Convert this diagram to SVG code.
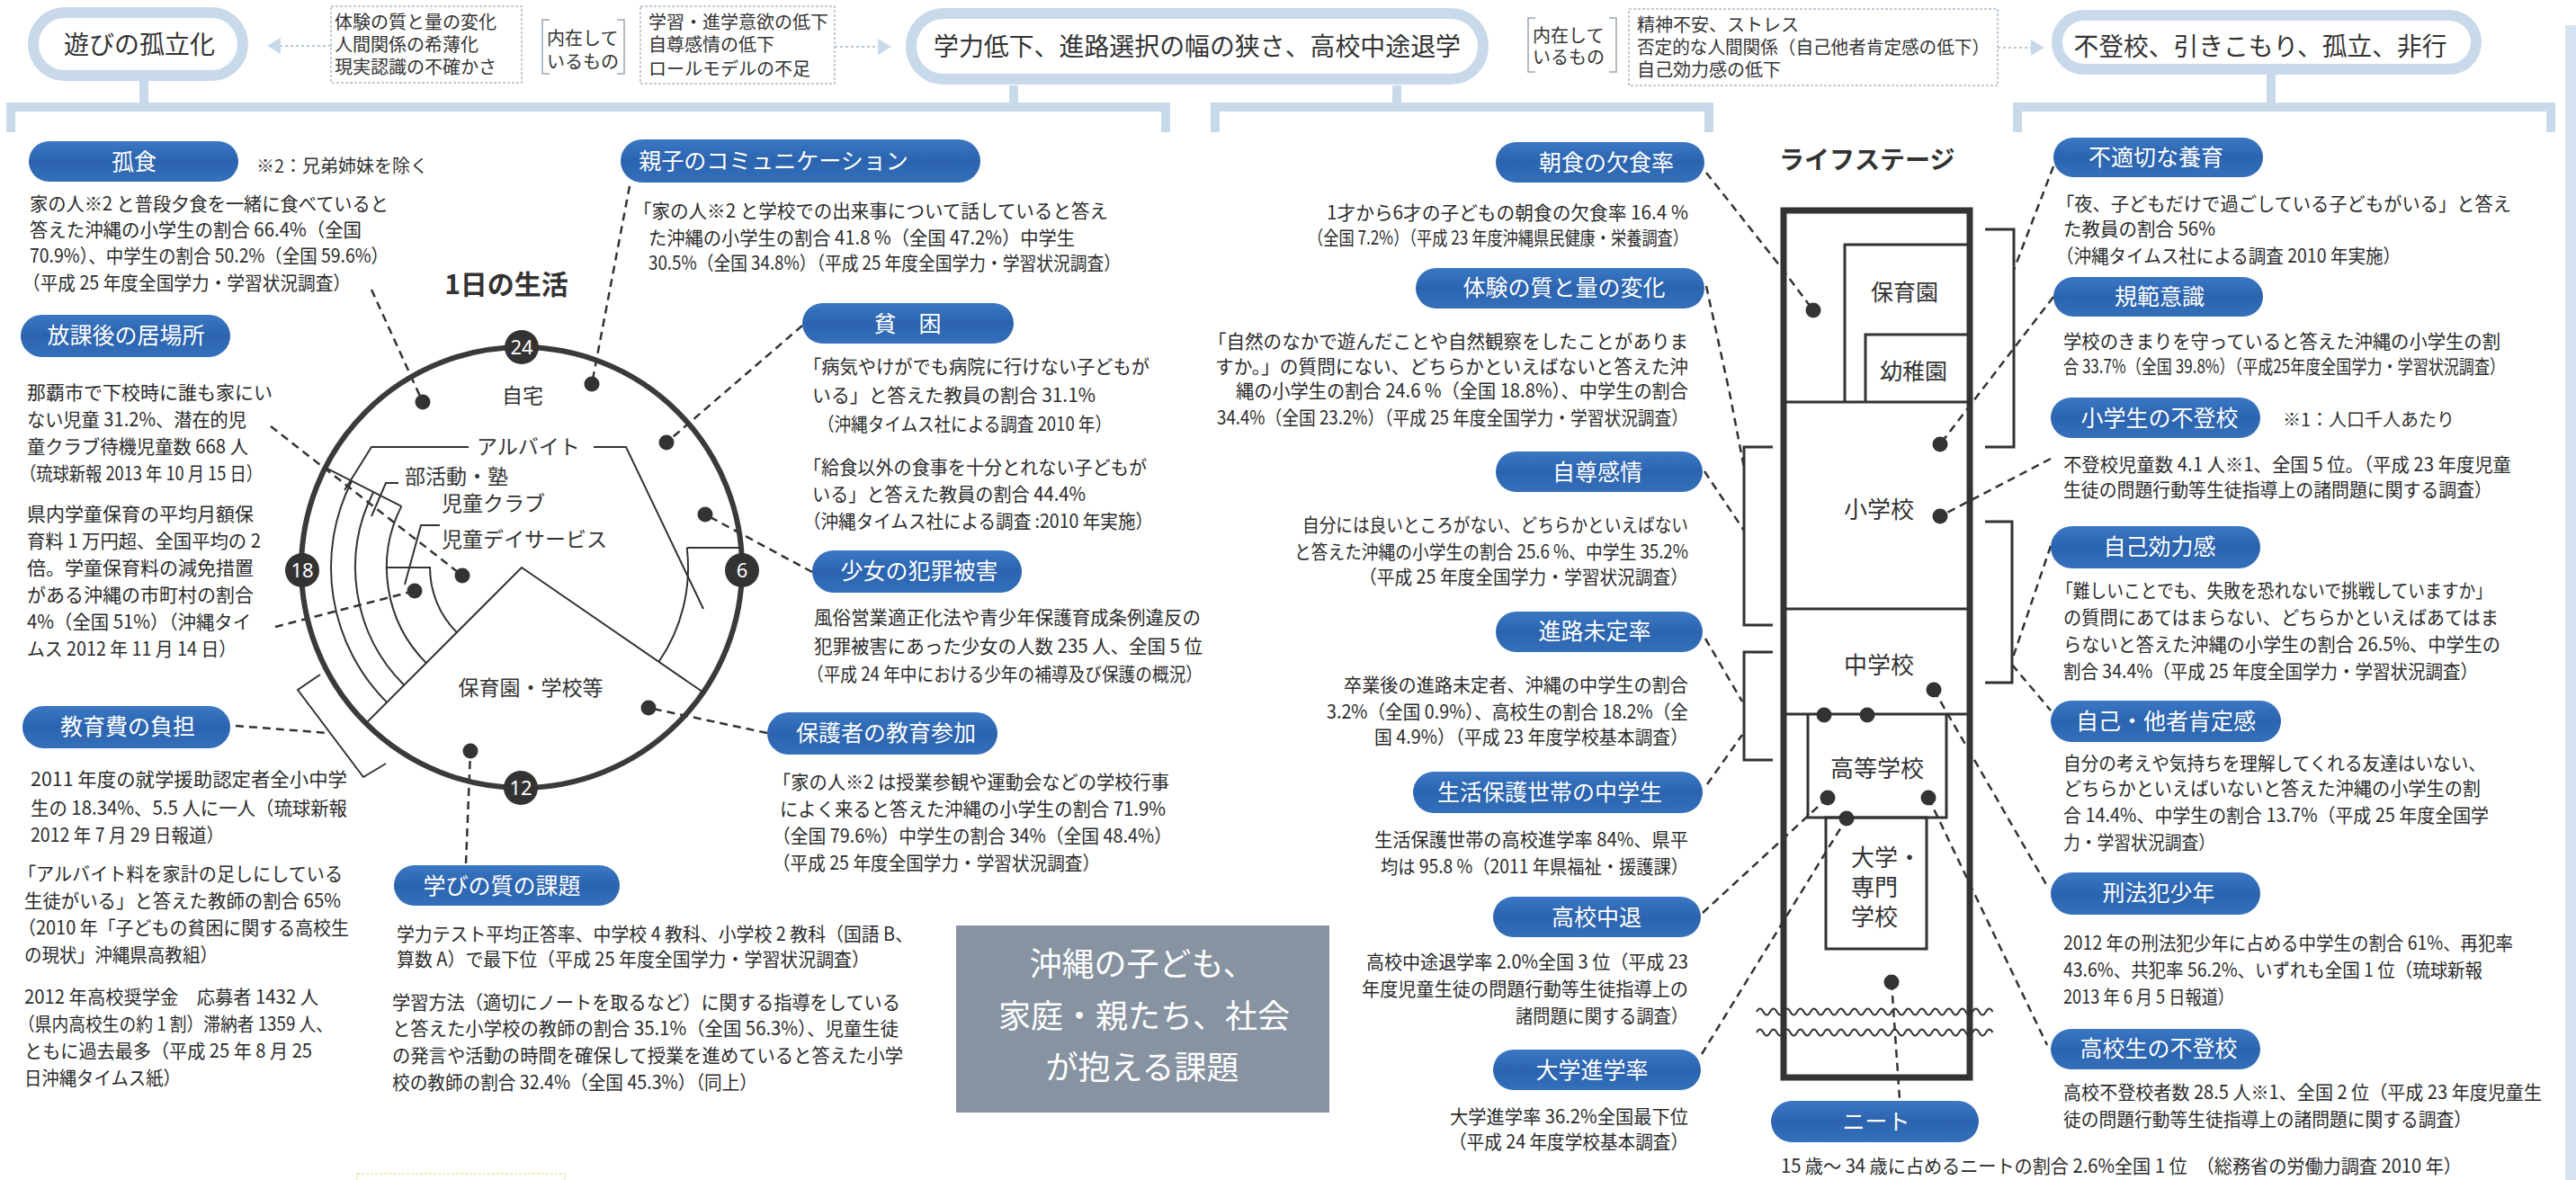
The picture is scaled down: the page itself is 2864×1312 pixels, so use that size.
<svg xmlns="http://www.w3.org/2000/svg" width="2864" height="1312" viewBox="0 0 2864 1312">
<defs>
<linearGradient id="pg" x1="0" y1="0" x2="0" y2="1">
<stop offset="0" stop-color="#3b78c4"/><stop offset="0.5" stop-color="#2b63ae"/><stop offset="1" stop-color="#3570bb"/>
</linearGradient>
<style>
text{font-family:"Noto Sans CJK JP","Noto Sans",sans-serif;}
.t{font-size:21px;fill:#2b2b2b;}
.pt{font-size:25px;fill:#fff;text-anchor:middle;}
.pl{fill:url(#pg);}
.dc{fill:none;stroke:#333;stroke-width:2.5;stroke-dasharray:9 6;}
.bar{fill:none;stroke:#c8d9ea;stroke-width:10;}
.tp{fill:#fff;stroke:#c8d9ea;stroke-width:12;}
.tt{font-size:28px;fill:#333;text-anchor:middle;}
.bx{fill:#fff;stroke:#aebbc9;stroke-width:1.5;stroke-dasharray:3 2;}
.bt{font-size:20px;fill:#333;}
.br{fill:none;stroke:#9aa6b2;stroke-width:1.5;}
.dot{fill:#333;}
.ln{fill:none;stroke:#333;stroke-width:2;}
.ls{fill:none;stroke:#333;stroke-width:3;}
.cl{font-size:23px;fill:#333;}
.num{font-size:22px;fill:#fff;text-anchor:middle;font-family:"Liberation Sans Narrow","Noto Sans",sans-serif;}
.arr{fill:#c8d9ea;}
.dl{fill:none;stroke:#b7c6d6;stroke-width:2;stroke-dasharray:3 3;}
</style>
</defs>
<rect width="2864" height="1312" fill="#fff"/>
<rect x="2852" y="28" width="12" height="1284" fill="#d5e3f1"/>

<g id="connectors">
<path class="bar" d="M12,147 V119 H1296 V147 M160,90 V119 M1127,95 V119"/>
<path class="bar" d="M1351,147 V119 H1900 V147 M1553,95 V119"/>
<path class="bar" d="M2243,147 V119 H2836 V147 M2525,83 V119"/>
<path class="dl" d="M368,51 H312"/><polygon class="arr" points="297,51 312,42 312,60"/>
<path class="dl" d="M928,52 H976"/><polygon class="arr" points="991,52 976,43 976,61"/>
<path class="dl" d="M2221,53 H2258"/><polygon class="arr" points="2273,53 2258,44 2258,62"/>
<path class="dc" d="M413,322 L470,447"/>
<path class="dc" d="M301,474 L514,640"/>
<path class="dc" d="M306,697 L461,657"/>
<path class="dc" d="M262,807 L365,815"/>
<path class="dc" d="M700,207 L658,427"/>
<path class="dc" d="M892,362 L741,492"/>
<path class="dc" d="M903,636 L784,572"/>
<path class="dc" d="M853,815 L721,787"/>
<path class="dc" d="M518,960 L523,835"/>
<path class="dc" d="M1897,192 L1980,297 L2016,345"/>
<path class="dc" d="M1897,318 L1923,437 L1939,520"/>
<path class="dc" d="M1895,524 L1939,590"/>
<path class="dc" d="M1896,710 L1937,780"/>
<path class="dc" d="M1898,872 L1937,817"/>
<path class="dc" d="M1893,1015 L2032,887"/>
<path class="dc" d="M1892,1172 L2053,910"/>
<path class="dc" d="M2103,1092 L2112,1222"/>
<path class="dc" d="M2283,185 L2239,300"/>
<path class="dc" d="M2283,330 L2157,494"/>
<path class="dc" d="M2280,510 L2157,574"/>
<path class="dc" d="M2280,607 L2237,734"/>
<path class="dc" d="M2237,739 L2280,790"/>
<path class="dc" d="M2150,767 L2276,985"/>
<path class="dc" d="M2144,887 L2276,1162"/>
</g>

<g id="top-isolation">
<rect class="tp" x="37" y="14" width="233" height="70" rx="35"/>
<text class="tt" x="155" y="60">遊びの孤立化</text>
</g>
<g id="top-box1">
<rect class="bx" x="368" y="7" width="212" height="85"/>
<text class="bt" x="372" y="32">体験の質と量の変化</text>
<text class="bt" x="372" y="57">人間関係の希薄化</text>
<text class="bt" x="372" y="82">現実認識の不確かさ</text>
</g>
<g id="top-inner1">
<path class="br" d="M611,22 H603 V82 H611 M686,22 H694 V82 H686"/>
<text class="bt" x="608" y="50">内在して</text>
<text class="bt" x="608" y="76">いるもの</text>
</g>
<g id="top-box2">
<rect class="bx" x="712" y="7" width="216" height="86"/>
<text class="bt" x="721" y="32">学習・進学意欲の低下</text>
<text class="bt" x="721" y="57">自尊感情の低下</text>
<text class="bt" x="721" y="84">ロールモデルの不足</text>
</g>
<g id="top-academic">
<rect class="tp" x="1013" y="15" width="636" height="73" rx="36"/>
<text class="tt" x="1331" y="62" textLength="586" lengthAdjust="spacingAndGlyphs">学力低下、進路選択の幅の狭さ、高校中途退学</text>
</g>
<g id="top-inner2">
<path class="br" d="M1707,20 H1699 V80 H1707 M1789,20 H1797 V80 H1789"/>
<text class="bt" x="1704" y="47">内在して</text>
<text class="bt" x="1704" y="71">いるもの</text>
</g>
<g id="top-box3">
<rect class="bx" x="1811" y="10" width="410" height="85"/>
<text class="bt" x="1820" y="35">精神不安、ストレス</text>
<text class="bt" x="1820" y="60" textLength="392" lengthAdjust="spacingAndGlyphs">否定的な人間関係（自己他者肯定感の低下）</text>
<text class="bt" x="1820" y="85">自己効力感の低下</text>
</g>
<g id="top-withdrawal">
<rect class="tp" x="2287" y="17" width="466" height="60" rx="30"/>
<text class="tt" x="2513" y="62" textLength="415" lengthAdjust="spacingAndGlyphs">不登校、引きこもり、孤立、非行</text>
</g>

<g id="clock">
<text x="563" y="327" style="font-size:30px;font-weight:bold;fill:#333;text-anchor:middle">1日の生活</text>
<circle cx="580" cy="631" r="245" fill="none" stroke="#3a3a3a" stroke-width="6"/>
<path class="ln" d="M781.9,769.8 L580,631 L406.8,804.2"/>
<path class="ln" d="M430.1,780.9 A212,212 0 0 1 391.1,534.8"/>
<path class="ln" d="M449.2,761.8 A185,185 0 0 1 415.2,547"/>
<path class="ln" d="M473.9,737.1 A150,150 0 0 1 446.3,562.9"/>
<path class="ln" d="M507.9,703.1 A102,102 0 0 1 478,631 H430"/>
<path class="ln" d="M361.7,519.8 L446.3,562.9"/>
<path class="ln" d="M763.7,609 A185,185 0 0 1 732.5,735.8 M763.7,609 H824"/>
<path class="ln" d="M383,545 L413,497 H521 M660,497 H696 L782,677"/>
<path class="ln" d="M413,574 L429,537 H443"/>
<path class="ln" d="M450,650 L468,584 H489"/>
<path class="ln" d="M356,750 L331,767 L404,864 L429,849"/>
<text class="cl" x="581" y="448" text-anchor="middle">自宅</text>
<text class="cl" x="530" y="505">アルバイト</text>
<text class="cl" x="450" y="538">部活動・塾</text>
<text class="cl" x="491" y="568">児童クラブ</text>
<text class="cl" x="491" y="608">児童デイサービス</text>
<text class="cl" x="590" y="773" text-anchor="middle">保育園・学校等</text>
<circle class="dot" cx="580" cy="386" r="19"/><text class="num" x="580" y="394">24</text>
<circle class="dot" cx="336" cy="634" r="19"/><text class="num" x="336" y="642">18</text>
<circle class="dot" cx="825" cy="634" r="19"/><text class="num" x="825" y="642">6</text>
<circle class="dot" cx="579" cy="876" r="19"/><text class="num" x="579" y="884">12</text>
<circle class="dot" cx="470" cy="447" r="8.5"/>
<circle class="dot" cx="658" cy="427" r="8.5"/>
<circle class="dot" cx="741" cy="492" r="8.5"/>
<circle class="dot" cx="784" cy="572" r="8.5"/>
<circle class="dot" cx="721" cy="787" r="8.5"/>
<circle class="dot" cx="523" cy="835" r="8.5"/>
<circle class="dot" cx="514" cy="640" r="8.5"/>
<circle class="dot" cx="461" cy="657" r="8.5"/>
</g>

<g id="n-koshoku">
<rect class="pl" x="32" y="157" width="233" height="45" rx="22.5"/>
<text class="pt" x="149" y="189">孤食</text>
<text class="bt" x="285" y="192">※2：兄弟姉妹を除く</text>
<text class="t" x="33" y="234" textLength="399" lengthAdjust="spacingAndGlyphs">家の人※2 と普段夕食を一緒に食べていると</text>
<text class="t" x="33" y="263" textLength="369" lengthAdjust="spacingAndGlyphs">答えた沖縄の小学生の割合 66.4%（全国</text>
<text class="t" x="33" y="292" textLength="399" lengthAdjust="spacingAndGlyphs">70.9%）、中学生の割合 50.2%（全国 59.6%）</text>
<text class="t" x="25" y="322" textLength="365" lengthAdjust="spacingAndGlyphs">（平成 25 年度全国学力・学習状況調査）</text>
</g>
<g id="n-houkago">
<rect class="pl" x="23" y="350" width="233" height="47" rx="23.5"/>
<text class="pt" x="140" y="382">放課後の居場所</text>
<text class="t" x="30" y="444">那覇市で下校時に誰も家にい</text>
<text class="t" x="30" y="474" textLength="244" lengthAdjust="spacingAndGlyphs">ない児童 31.2%、潜在的児</text>
<text class="t" x="30" y="504" textLength="246" lengthAdjust="spacingAndGlyphs">童クラブ待機児童数 668 人</text>
<text class="t" x="22" y="534" textLength="270" lengthAdjust="spacingAndGlyphs">（琉球新報 2013 年 10 月 15 日）</text>
<text class="t" x="30" y="579">県内学童保育の平均月額保</text>
<text class="t" x="30" y="609" textLength="260" lengthAdjust="spacingAndGlyphs">育料 1 万円超、全国平均の 2</text>
<text class="t" x="30" y="639">倍。学童保育料の減免措置</text>
<text class="t" x="30" y="669">がある沖縄の市町村の割合</text>
<text class="t" x="30" y="699" textLength="249" lengthAdjust="spacingAndGlyphs">4%（全国 51%）（沖縄タイ</text>
<text class="t" x="30" y="729" textLength="233" lengthAdjust="spacingAndGlyphs">ムス 2012 年 11 月 14 日）</text>
</g>
<g id="n-kyouikuhi">
<rect class="pl" x="25" y="785" width="231" height="47" rx="23.5"/>
<text class="pt" x="142" y="817">教育費の負担</text>
<text class="t" x="34" y="874" textLength="352" lengthAdjust="spacingAndGlyphs">2011 年度の就学援助認定者全小中学</text>
<text class="t" x="34" y="906" textLength="352" lengthAdjust="spacingAndGlyphs">生の 18.34%、5.5 人に一人（琉球新報</text>
<text class="t" x="34" y="936" textLength="215" lengthAdjust="spacingAndGlyphs">2012 年 7 月 29 日報道）</text>
<text class="t" x="20" y="979" textLength="361" lengthAdjust="spacingAndGlyphs">「アルバイト料を家計の足しにしている</text>
<text class="t" x="27" y="1009" textLength="352" lengthAdjust="spacingAndGlyphs">生徒がいる」と答えた教師の割合 65%</text>
<text class="t" x="20" y="1039" textLength="368" lengthAdjust="spacingAndGlyphs">（2010 年「子どもの貧困に関する高校生</text>
<text class="t" x="27" y="1069" textLength="215" lengthAdjust="spacingAndGlyphs">の現状」沖縄県高教組）</text>
<text class="t" x="27" y="1116" textLength="327" lengthAdjust="spacingAndGlyphs">2012 年高校奨学金　応募者 1432 人</text>
<text class="t" x="20" y="1146" textLength="350" lengthAdjust="spacingAndGlyphs">（県内高校生の約 1 割）滞納者 1359 人、</text>
<text class="t" x="27" y="1176" textLength="320" lengthAdjust="spacingAndGlyphs">ともに過去最多（平成 25 年 8 月 25</text>
<text class="t" x="27" y="1206" textLength="174" lengthAdjust="spacingAndGlyphs">日沖縄タイムス紙）</text>
</g>
<g id="n-oyako">
<rect class="pl" x="690" y="155" width="400" height="48" rx="24"/>
<text class="pt" x="860" y="188">親子のコミュニケーション</text>
<text class="t" x="704" y="242" textLength="528" lengthAdjust="spacingAndGlyphs">「家の人※2 と学校での出来事について話していると答え</text>
<text class="t" x="721" y="272" textLength="474" lengthAdjust="spacingAndGlyphs">た沖縄の小学生の割合 41.8 %（全国 47.2%）中学生</text>
<text class="t" x="721" y="300" textLength="525" lengthAdjust="spacingAndGlyphs">30.5%（全国 34.8%）（平成 25 年度全国学力・学習状況調査）</text>
</g>
<g id="n-hinkon">
<rect class="pl" x="892" y="337" width="235" height="45" rx="22.5"/>
<text class="pt" x="1009" y="369">貧　困</text>
<text class="t" x="893" y="415" textLength="385" lengthAdjust="spacingAndGlyphs">「病気やけがでも病院に行けない子どもが</text>
<text class="t" x="903" y="447" textLength="315" lengthAdjust="spacingAndGlyphs">いる」と答えた教員の割合 31.1%</text>
<text class="t" x="909" y="479" textLength="327" lengthAdjust="spacingAndGlyphs">（沖縄タイムス社による調査 2010 年）</text>
<text class="t" x="893" y="527" textLength="382" lengthAdjust="spacingAndGlyphs">「給食以外の食事を十分とれない子どもが</text>
<text class="t" x="903" y="557" textLength="304" lengthAdjust="spacingAndGlyphs">いる」と答えた教員の割合 44.4%</text>
<text class="t" x="893" y="587" textLength="389" lengthAdjust="spacingAndGlyphs">（沖縄タイムス社による調査 :2010 年実施）</text>
</g>
<g id="n-shoujo">
<rect class="pl" x="903" y="612" width="233" height="47" rx="23.5"/>
<text class="pt" x="1022" y="644">少女の犯罪被害</text>
<text class="t" x="905" y="694" textLength="430" lengthAdjust="spacingAndGlyphs">風俗営業適正化法や青少年保護育成条例違反の</text>
<text class="t" x="905" y="726" textLength="432" lengthAdjust="spacingAndGlyphs">犯罪被害にあった少女の人数 235 人、全国 5 位</text>
<text class="t" x="897" y="757" textLength="440" lengthAdjust="spacingAndGlyphs">（平成 24 年中における少年の補導及び保護の概況）</text>
</g>
<g id="n-hogosha">
<rect class="pl" x="853" y="792" width="256" height="47" rx="23.5"/>
<text class="pt" x="985" y="824">保護者の教育参加</text>
<text class="t" x="859" y="877" textLength="441" lengthAdjust="spacingAndGlyphs">「家の人※2 は授業参観や運動会などの学校行事</text>
<text class="t" x="867" y="907" textLength="429" lengthAdjust="spacingAndGlyphs">によく来ると答えた沖縄の小学生の割合 71.9%</text>
<text class="t" x="859" y="937" textLength="444" lengthAdjust="spacingAndGlyphs">（全国 79.6%）中学生の割合 34%（全国 48.4%）</text>
<text class="t" x="859" y="967" textLength="364" lengthAdjust="spacingAndGlyphs">（平成 25 年度全国学力・学習状況調査）</text>
</g>
<g id="n-manabi">
<rect class="pl" x="438" y="962" width="251" height="45" rx="22.5"/>
<text class="pt" x="558" y="994">学びの質の課題</text>
<text class="t" x="441" y="1046" textLength="574" lengthAdjust="spacingAndGlyphs">学力テスト平均正答率、中学校 4 教科、小学校 2 教科（国語 B、</text>
<text class="t" x="441" y="1074" textLength="526" lengthAdjust="spacingAndGlyphs">算数 A）で最下位（平成 25 年度全国学力・学習状況調査）</text>
<text class="t" x="436" y="1122" textLength="565" lengthAdjust="spacingAndGlyphs">学習方法（適切にノートを取るなど）に関する指導をしている</text>
<text class="t" x="436" y="1151" textLength="563" lengthAdjust="spacingAndGlyphs">と答えた小学校の教師の割合 35.1%（全国 56.3%）、児童生徒</text>
<text class="t" x="436" y="1181" textLength="568" lengthAdjust="spacingAndGlyphs">の発言や活動の時間を確保して授業を進めていると答えた小学</text>
<text class="t" x="436" y="1211" textLength="406" lengthAdjust="spacingAndGlyphs">校の教師の割合 32.4%（全国 45.3%）（同上）</text>
</g>
<g id="title-box">
<rect x="1063" y="1029" width="415" height="208" fill="#8793a1"/>
<text x="1270" y="1085" style="font-size:36px;fill:#fff;text-anchor:middle">沖縄の子ども、</text>
<text x="1272" y="1143" style="font-size:36px;fill:#fff;text-anchor:middle">家庭・親たち、社会</text>
<text x="1270" y="1200" style="font-size:36px;fill:#fff;text-anchor:middle">が抱える課題</text>
</g>
<rect x="397" y="1305" width="231" height="20" fill="none" stroke="#efe4a8" stroke-width="1.5" stroke-dasharray="3 2"/>

<g id="n-choushoku">
<rect class="pl" x="1663" y="158" width="232" height="45" rx="22.5"/>
<text class="pt" x="1786" y="190">朝食の欠食率</text>
<text class="t" x="1475" y="244" textLength="402" lengthAdjust="spacingAndGlyphs">1才から6才の子どもの朝食の欠食率 16.4 %</text>
<text class="t" x="1454" y="272" textLength="423" lengthAdjust="spacingAndGlyphs">（全国 7.2%）（平成 23 年度沖縄県民健康・栄養調査）</text>
</g>
<g id="n-taiken">
<rect class="pl" x="1574" y="298" width="321" height="45" rx="22.5"/>
<text class="pt" x="1739" y="329">体験の質と量の変化</text>
<text class="t" x="1343" y="387" textLength="534" lengthAdjust="spacingAndGlyphs">「自然のなかで遊んだことや自然観察をしたことがありま</text>
<text class="t" x="1351" y="415" textLength="526" lengthAdjust="spacingAndGlyphs">すか。」の質問にない、どちらかといえばないと答えた沖</text>
<text class="t" x="1374" y="442" textLength="503" lengthAdjust="spacingAndGlyphs">縄の小学生の割合 24.6 %（全国 18.8%）、中学生の割合</text>
<text class="t" x="1353" y="472" textLength="524" lengthAdjust="spacingAndGlyphs">34.4%（全国 23.2%）（平成 25 年度全国学力・学習状況調査）</text>
</g>
<g id="n-jison">
<rect class="pl" x="1663" y="502" width="230" height="45" rx="22.5"/>
<text class="pt" x="1776" y="534">自尊感情</text>
<text class="t" x="1448" y="591" textLength="429" lengthAdjust="spacingAndGlyphs">自分には良いところがない、どちらかといえばない</text>
<text class="t" x="1439" y="621" textLength="438" lengthAdjust="spacingAndGlyphs">と答えた沖縄の小学生の割合 25.6 %、中学生 35.2%</text>
<text class="t" x="1511" y="649" textLength="366" lengthAdjust="spacingAndGlyphs">（平成 25 年度全国学力・学習状況調査）</text>
</g>
<g id="n-shinro">
<rect class="pl" x="1663" y="680" width="230" height="45" rx="22.5"/>
<text class="pt" x="1773" y="711">進路未定率</text>
<text class="t" x="1494" y="769" textLength="383" lengthAdjust="spacingAndGlyphs">卒業後の進路未定者、沖縄の中学生の割合</text>
<text class="t" x="1475" y="799" textLength="402" lengthAdjust="spacingAndGlyphs">3.2%（全国 0.9%）、高校生の割合 18.2%（全</text>
<text class="t" x="1528" y="827" textLength="349" lengthAdjust="spacingAndGlyphs">国 4.9%）（平成 23 年度学校基本調査）</text>
</g>
<g id="n-seikatsuhogo">
<rect class="pl" x="1571" y="858" width="322" height="46" rx="23"/>
<text class="pt" x="1723" y="890">生活保護世帯の中学生</text>
<text class="t" x="1528" y="941" textLength="349" lengthAdjust="spacingAndGlyphs">生活保護世帯の高校進学率 84%、県平</text>
<text class="t" x="1535" y="971" textLength="342" lengthAdjust="spacingAndGlyphs">均は 95.8 %（2011 年県福祉・援護課）</text>
</g>
<g id="n-koukouchutai">
<rect class="pl" x="1660" y="997" width="231" height="45" rx="22.5"/>
<text class="pt" x="1775" y="1029">高校中退</text>
<text class="t" x="1519" y="1077" textLength="358" lengthAdjust="spacingAndGlyphs">高校中途退学率 2.0%全国 3 位（平成 23</text>
<text class="t" x="1514" y="1107" textLength="363" lengthAdjust="spacingAndGlyphs">年度児童生徒の問題行動等生徒指導上の</text>
<text class="t" x="1685" y="1137" textLength="192" lengthAdjust="spacingAndGlyphs">諸問題に関する調査）</text>
</g>
<g id="n-daigaku">
<rect class="pl" x="1660" y="1167" width="231" height="45" rx="22.5"/>
<text class="pt" x="1770" y="1199">大学進学率</text>
<text class="t" x="1612" y="1249" textLength="265" lengthAdjust="spacingAndGlyphs">大学進学率 36.2%全国最下位</text>
<text class="t" x="1611" y="1277" textLength="266" lengthAdjust="spacingAndGlyphs">（平成 24 年度学校基本調査）</text>
</g>

<g id="lifestage">
<text x="1978" y="188" style="font-size:28px;font-weight:bold;fill:#333">ライフステージ</text>
<rect x="1983" y="234" width="207" height="964" fill="none" stroke="#333" stroke-width="7"/>
<path class="ls" d="M2187,272 H2051 V447 M2187,372 H2074 V447 M1983,447 H2187 M1983,677 H2187 M1983,794 H2187 M2010,794 V909 H2164 V794"/>
<rect class="ls" x="2030" y="909" width="112" height="146"/>
<path class="ls" d="M1971,497 H1939 V695 H1971 M1971,725 H1939 V845 H1971 M2207,255 H2239 V497 H2207 M2207,580 H2237 V759 H2207"/>
<path class="ln" d="M1953,1125 q3.75,-7 7.5,0 t7.5,0 t7.5,0 t7.5,0 t7.5,0 t7.5,0 t7.5,0 t7.5,0 t7.5,0 t7.5,0 t7.5,0 t7.5,0 t7.5,0 t7.5,0 t7.5,0 t7.5,0 t7.5,0 t7.5,0 t7.5,0 t7.5,0 t7.5,0 t7.5,0 t7.5,0 t7.5,0 t7.5,0 t7.5,0 t7.5,0 t7.5,0 t7.5,0 t7.5,0 t7.5,0 t7.5,0 t7.5,0 t7.5,0 t7.5,0"/>
<path class="ln" d="M1953,1148 q3.75,-7 7.5,0 t7.5,0 t7.5,0 t7.5,0 t7.5,0 t7.5,0 t7.5,0 t7.5,0 t7.5,0 t7.5,0 t7.5,0 t7.5,0 t7.5,0 t7.5,0 t7.5,0 t7.5,0 t7.5,0 t7.5,0 t7.5,0 t7.5,0 t7.5,0 t7.5,0 t7.5,0 t7.5,0 t7.5,0 t7.5,0 t7.5,0 t7.5,0 t7.5,0 t7.5,0 t7.5,0 t7.5,0 t7.5,0 t7.5,0 t7.5,0"/>
<text x="2080" y="334" style="font-size:25px;fill:#333">保育園</text>
<text x="2090" y="422" style="font-size:25px;fill:#333">幼稚園</text>
<text x="2089" y="576" style="font-size:26px;fill:#333;text-anchor:middle">小学校</text>
<text x="2089" y="749" style="font-size:26px;fill:#333;text-anchor:middle">中学校</text>
<text x="2087" y="864" style="font-size:26px;fill:#333;text-anchor:middle">高等学校</text>
<text x="2058" y="963" style="font-size:26px;fill:#333">大学・</text>
<text x="2058" y="996" style="font-size:26px;fill:#333">専門</text>
<text x="2058" y="1029" style="font-size:26px;fill:#333">学校</text>
<circle class="dot" cx="2016" cy="345" r="8.5"/>
<circle class="dot" cx="2157" cy="494" r="8.5"/>
<circle class="dot" cx="2157" cy="574" r="8.5"/>
<circle class="dot" cx="2150" cy="767" r="8.5"/>
<circle class="dot" cx="2028" cy="795" r="8.5"/>
<circle class="dot" cx="2076" cy="795" r="8.5"/>
<circle class="dot" cx="2032" cy="887" r="8.5"/>
<circle class="dot" cx="2053" cy="910" r="8.5"/>
<circle class="dot" cx="2144" cy="887" r="8.5"/>
<circle class="dot" cx="2103" cy="1092" r="8.5"/>
</g>
<g id="n-neet">
<rect class="pl" x="1969" y="1224" width="231" height="46" rx="23"/>
<text class="pt" x="2086" y="1256">ニート</text>
<text class="t" x="1980" y="1304" textLength="757" lengthAdjust="spacingAndGlyphs">15 歳～ 34 歳に占めるニートの割合 2.6%全国 1 位　（総務省の労働力調査 2010 年）</text>
</g>

<g id="n-futekisetsu">
<rect class="pl" x="2283" y="153" width="233" height="44" rx="22"/>
<text class="pt" x="2397" y="184">不適切な養育</text>
<text class="t" x="2286" y="234" textLength="506" lengthAdjust="spacingAndGlyphs">「夜、子どもだけで過ごしている子どもがいる」と答え</text>
<text class="t" x="2294" y="262" textLength="169" lengthAdjust="spacingAndGlyphs">た教員の割合 56%</text>
<text class="t" x="2286" y="292" textLength="383" lengthAdjust="spacingAndGlyphs">（沖縄タイムス社による調査 2010 年実施）</text>
</g>
<g id="n-kihan">
<rect class="pl" x="2283" y="308" width="233" height="44" rx="22"/>
<text class="pt" x="2401" y="339">規範意識</text>
<text class="t" x="2294" y="387" textLength="486" lengthAdjust="spacingAndGlyphs">学校のきまりを守っていると答えた沖縄の小学生の割</text>
<text class="t" x="2294" y="415" textLength="491" lengthAdjust="spacingAndGlyphs">合 33.7%（全国 39.8%）（平成25年度全国学力・学習状況調査）</text>
</g>
<g id="n-shoufutoukou">
<rect class="pl" x="2280" y="442" width="233" height="45" rx="22.5"/>
<text class="pt" x="2401" y="474">小学生の不登校</text>
<text class="bt" x="2538" y="474">※1：人口千人あたり</text>
<text class="t" x="2294" y="524" textLength="498" lengthAdjust="spacingAndGlyphs">不登校児童数 4.1 人※1、全国 5 位。（平成 23 年度児童</text>
<text class="t" x="2294" y="552" textLength="477" lengthAdjust="spacingAndGlyphs">生徒の問題行動等生徒指導上の諸問題に関する調査）</text>
</g>
<g id="n-jikokouryoku">
<rect class="pl" x="2280" y="585" width="233" height="47" rx="23.5"/>
<text class="pt" x="2401" y="617">自己効力感</text>
<text class="t" x="2286" y="664" textLength="485" lengthAdjust="spacingAndGlyphs">「難しいことでも、失敗を恐れないで挑戦していますか」</text>
<text class="t" x="2294" y="694" textLength="484" lengthAdjust="spacingAndGlyphs">の質問にあてはまらない、どちらかといえばあてはま</text>
<text class="t" x="2294" y="724" textLength="486" lengthAdjust="spacingAndGlyphs">らないと答えた沖縄の小学生の割合 26.5%、中学生の</text>
<text class="t" x="2294" y="754" textLength="461" lengthAdjust="spacingAndGlyphs">割合 34.4%（平成 25 年度全国学力・学習状況調査）</text>
</g>
<g id="n-jikotasha">
<rect class="pl" x="2280" y="779" width="256" height="46" rx="23"/>
<text class="pt" x="2408" y="811">自己・他者肯定感</text>
<text class="t" x="2294" y="856" textLength="470" lengthAdjust="spacingAndGlyphs">自分の考えや気持ちを理解してくれる友達はいない、</text>
<text class="t" x="2294" y="884" textLength="464" lengthAdjust="spacingAndGlyphs">どちらかといえばいないと答えた沖縄の小学生の割</text>
<text class="t" x="2294" y="914" textLength="473" lengthAdjust="spacingAndGlyphs">合 14.4%、中学生の割合 13.7%（平成 25 年度全国学</text>
<text class="t" x="2294" y="944" textLength="169" lengthAdjust="spacingAndGlyphs">力・学習状況調査）</text>
</g>
<g id="n-keihou">
<rect class="pl" x="2280" y="970" width="233" height="47" rx="23.5"/>
<text class="pt" x="2400" y="1002">刑法犯少年</text>
<text class="t" x="2294" y="1056" textLength="500" lengthAdjust="spacingAndGlyphs">2012 年の刑法犯少年に占める中学生の割合 61%、再犯率</text>
<text class="t" x="2294" y="1086" textLength="466" lengthAdjust="spacingAndGlyphs">43.6%、共犯率 56.2%、いずれも全国 1 位（琉球新報</text>
<text class="t" x="2294" y="1116" textLength="190" lengthAdjust="spacingAndGlyphs">2013 年 6 月 5 日報道）</text>
</g>
<g id="n-koukoufutoukou">
<rect class="pl" x="2280" y="1144" width="233" height="45" rx="22.5"/>
<text class="pt" x="2400" y="1175">高校生の不登校</text>
<text class="t" x="2294" y="1222" textLength="532" lengthAdjust="spacingAndGlyphs">高校不登校者数 28.5 人※1、全国 2 位（平成 23 年度児童生</text>
<text class="t" x="2294" y="1252" textLength="454" lengthAdjust="spacingAndGlyphs">徒の問題行動等生徒指導上の諸問題に関する調査）</text>
</g>
</svg>
